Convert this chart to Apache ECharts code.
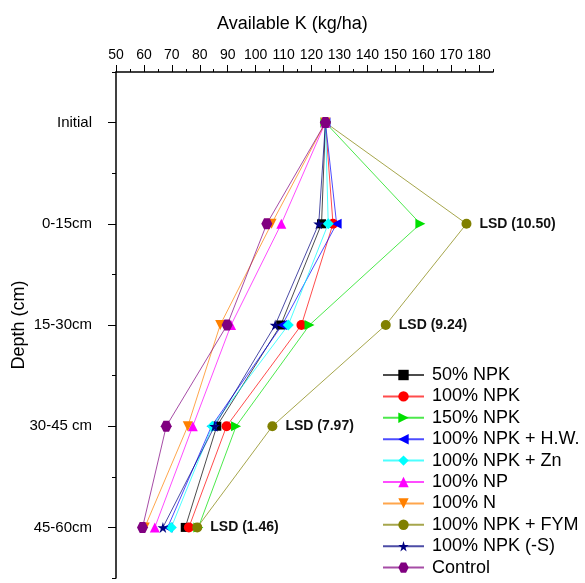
<!DOCTYPE html>
<html>
<head>
<meta charset="utf-8">
<script src="https://cdn.jsdelivr.net/npm/echarts@6/dist/echarts.min.js"></script>
<style>
  html, body { margin: 0; padding: 0; background: #fff; }
  #chart { width: 585px; height: 583px; }
</style>
</head>
<body>
<div id="chart"></div>
<script>
// depth classes (y categories, top to bottom)
var depths = ['Initial', '0-15cm', '15-30cm', '30-45 cm', '45-60cm'];
var xTicks = [50, 60, 70, 80, 90, 100, 110, 120, 130, 140, 150, 160, 170, 180];
var xHalfTicks = [55, 65, 75, 85, 95, 105, 115, 125, 135, 145, 155, 165, 175, 185];

// available K (kg/ha), one value per depth
var npk50   = [125, 123.6, 109.0, 86.1, 74.8];
var npk100  = [125, 127.7, 116.4, 89.6, 76.1];
var npk150  = [125, 159.0, 119.3, 93.0, 79.5];
var npkHW   = [125, 129.0, 109.5, 84.2, 68.5];
var npkZn   = [125, 126.0, 111.7, 84.5, 69.8];
var np100   = [125, 109.2, 91.2, 77.5, 63.9];
var n100    = [125, 105.7, 87.3, 75.7, 60.3];
var npkFYM  = [125, 175.5, 146.6, 106.0, 79.1];
var npkNoS  = [125, 122.6, 107.0, 85.3, 66.8];
var control = [125, 104.0, 89.8, 68.0, 59.5];
var lsd = ['', '10.50', '9.24', '7.97', '1.46'];

var FONT = '"Liberation Sans", Arial, sans-serif';
var STAR = 'path://M50,0L61,35L98,35L68,57L79,91L50,70L21,91L32,57L2,35L39,35Z';
var HEX = 'path://M25,0L75,0L100,50L75,100L25,100L0,50Z';
var TRI_R = 'path://M0,0L100,50L0,100Z';
var TRI_L = 'path://M100,0L0,50L100,100Z';
var TRI_D = 'path://M0,0L100,0L50,100Z';

function mk(name, data, color, symbol, size) {
  return {
    name: name,
    type: 'line',
    data: data,
    color: color,
    symbol: symbol,
    symbolSize: size || 10,
    lineStyle: { color: color, width: 1, opacity: 0.7 },
    itemStyle: { color: color },
    emphasis: { disabled: true },
    animation: false
  };
}

var series = [
  mk('50% NPK', npk50, '#000000', 'rect', 9),
  mk('100% NPK', npk100, '#ff0000', 'circle', 10),
  mk('150% NPK', npk150, '#00e000', TRI_R, 10),
  mk('100% NPK + H.W.', npkHW, '#0000ff', TRI_L, 10),
  mk('100% NPK + Zn', npkZn, '#00ffff', 'diamond', 11),
  mk('100% NP', np100, '#ff00ff', 'triangle', 10),
  mk('100% N', n100, '#ff8000', TRI_D, 10),
  mk('100% NPK + FYM', npkFYM, '#808000', 'circle', 10),
  mk('100% NPK (-S)', npkNoS, '#000080', STAR, 11),
  mk('Control', control, '#800080', HEX, 11)
];
// LSD labels next to the FYM points
series[7].label = {
  show: true,
  position: 'right',
  distance: 8,
  fontFamily: FONT,
  fontSize: 14,
  fontWeight: 'bold',
  color: '#111',
  formatter: function (p) {
    return lsd[p.dataIndex] ? 'LSD (' + lsd[p.dataIndex] + ')' : '';
  }
};

var chart = echarts.init(document.getElementById('chart'));
chart.setOption({
  backgroundColor: '#fff',
  animation: false,
  title: {
    text: 'Available K (kg/ha)',
    left: 212,
    top: 10,
    textStyle: { fontFamily: FONT, fontSize: 18, fontWeight: 'normal', color: '#000' }
  },
  grid: {
    left: 116, right: 92, top: 72, bottom: 5,
    containLabel: false,
    outerBoundsMode: 'none'
  },
  legend: {
    orient: 'vertical',
    left: 382,
    top: 366,
    padding: 0,
    itemWidth: 41,
    itemHeight: 13,
    itemGap: 3.4,
    textStyle: { fontFamily: FONT, fontSize: 18, color: '#000', padding: [0, 0, 0, 3] },
    data: series.map(function (s) { return s.name; })
  },
  xAxis: [{
    type: 'value',
    position: 'top',
    min: 50,
    max: 185,
    interval: 10,
    axisLine: { show: true, lineStyle: { color: '#000', width: 1.5 } },
    axisTick: { show: true, inside: false, length: 7, customValues: xTicks, lineStyle: { color: '#000' } },
    axisLabel: { customValues: xTicks, margin: 10, fontFamily: FONT, fontSize: 14, color: '#000' },
    splitLine: { show: false }
  }, {
    type: 'value',
    position: 'top',
    min: 50,
    max: 185,
    axisLine: { show: false },
    axisTick: { show: true, inside: false, length: 3, customValues: xHalfTicks, lineStyle: { color: '#000' } },
    axisLabel: { show: false },
    splitLine: { show: false }
  }],
  yAxis: [{
    type: 'category',
    data: depths,
    inverse: true,
    boundaryGap: true,
    name: 'Depth (cm)',
    nameLocation: 'middle',
    nameGap: 88,
    nameRotate: 90,
    nameMoveOverlap: false,
    nameTextStyle: { fontFamily: FONT, fontSize: 18, color: '#000' },
    axisLine: { show: true, lineStyle: { color: '#000', width: 1.5 } },
    axisTick: { show: true, alignWithLabel: true, length: 8, lineStyle: { color: '#000' } },
    axisLabel: { margin: 24, fontFamily: FONT, fontSize: 15, color: '#000' },
    splitLine: { show: false }
  }, {
    type: 'category',
    data: depths,
    inverse: true,
    boundaryGap: true,
    position: 'left',
    axisLine: { show: false },
    axisTick: { show: true, length: 4, lineStyle: { color: '#000' } },
    axisLabel: { show: false },
    splitLine: { show: false }
  }],
  series: series
});
</script>
</body>
</html>
